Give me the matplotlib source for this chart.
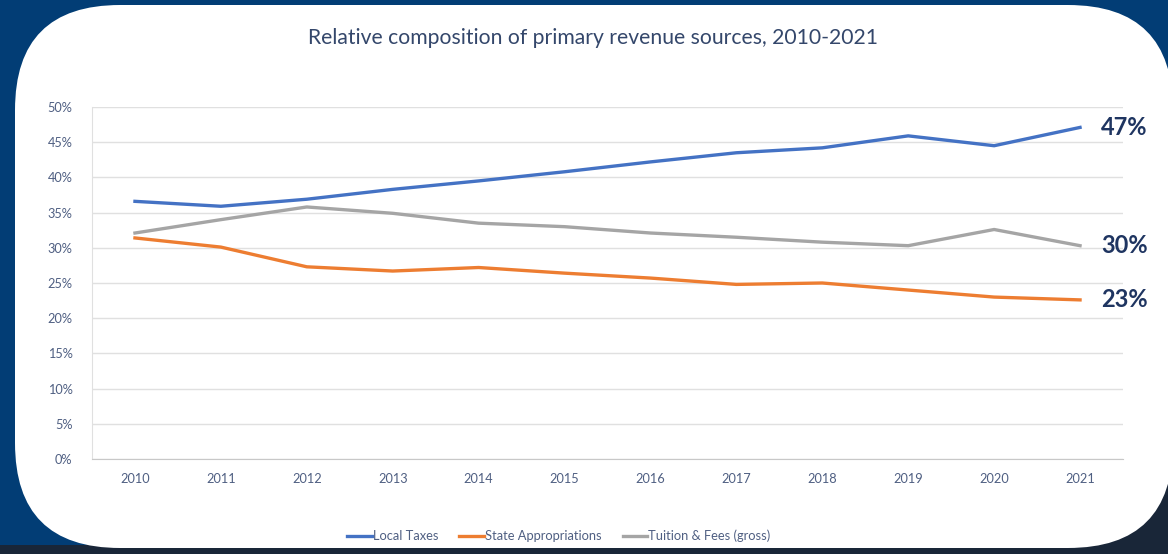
import numpy as np
import matplotlib.pyplot as plt
from matplotlib.patches import FancyBboxPatch

# data (percent of revenue)
years = ['2010', '2011', '2012', '2013', '2014', '2015', '2016', '2017', '2018', '2019', '2020', '2021']
local_taxes = [36.6, 35.9, 36.9, 38.3, 39.5, 40.8, 42.2, 43.5, 44.2, 45.9, 44.5, 47.1]
state_approp = [31.4, 30.1, 27.3, 26.7, 27.2, 26.4, 25.7, 24.8, 25.0, 24.0, 23.0, 22.6]
tuition_fees = [32.1, 34.0, 35.8, 34.9, 33.5, 33.0, 32.1, 31.5, 30.8, 30.3, 32.6, 30.3]
series_names = ['Local Taxes', 'State Appropriations', 'Tuition & Fees (gross)']
end_labels = ['47%', '23%', '30%']
yticks = [0, 5, 10, 15, 20, 25, 30, 35, 40, 45, 50]

W, H = 1168, 554
plt.rcParams['font.family'] = ['Lato', 'DejaVu Sans']

fig = plt.figure(figsize=(W / 100, H / 100), dpi=100)

# background in pixel coordinates
bg = fig.add_axes([0, 0, 1, 1])
bg.set_xlim(0, W)
bg.set_ylim(H, 0)
bg.axis('off')

blue = np.array([0.01, 0.24, 0.46])
dark = np.array([0.10, 0.15, 0.22])
xx, yy = np.meshgrid(np.linspace(0, 1, 240), np.linspace(0, 1, 120))
t = np.clip((xx * 0.8 + yy * 1.2 - 1.35) / 0.35, 0, 1)
t[yy > 0.985] = 1
img = blue[None, None, :] * (1 - t[..., None]) + dark[None, None, :] * t[..., None]
bg.imshow(img, extent=[0, W, H, 0], aspect='auto', zorder=0)

card = FancyBboxPatch((15, 5), 1158, 543, boxstyle='round,pad=0,rounding_size=105',
                      facecolor='white', edgecolor='none', zorder=1)
bg.add_patch(card)

# chart axes
ax = fig.add_axes([92 / W, 1 - 459 / H, (1123 - 92) / W, (459 - 107) / H])
ax.set_facecolor('none')
x = np.arange(len(years))
ax.plot(x, local_taxes, color='#4472C4', lw=2.4, label=series_names[0])
ax.plot(x, state_approp, color='#ED7D31', lw=2.4, label=series_names[1])
ax.plot(x, tuition_fees, color='#A5A5A5', lw=2.4, label=series_names[2])

ax.set_xlim(-0.5, len(years) - 0.5)
ax.set_ylim(0, 50)
ax.set_yticks(yticks)
ax.set_yticklabels([f'{v}%' for v in yticks])
ax.set_xticks(x)
ax.set_xticklabels(years)
ax.tick_params(length=0, labelsize=9.2, labelcolor='#4f5f82')
ax.tick_params(axis='y', pad=14)
ax.tick_params(axis='x', pad=10)
ax.grid(axis='y', color='#e0e0e0', lw=1)
ax.set_axisbelow(True)
for s in ['top', 'right']:
    ax.spines[s].set_visible(False)
ax.spines['left'].set_color('#e0e0e0')
ax.spines['bottom'].set_color('#c8c8c8')

# end labels
for vals, lab in zip([local_taxes, state_approp, tuition_fees], end_labels):
    ax.annotate(lab, (x[-1], vals[-1]), xytext=(15, 0), textcoords='offset points',
                va='center', ha='left', fontsize=17, fontweight='bold', color='#1f3561',
                annotation_clip=False)

fig.text(593 / W, 1 - 38 / H, 'Relative composition of primary revenue sources, 2010-2021',
         ha='center', va='center', fontsize=15.2, color='#34476b')

fig.legend(loc='center', bbox_to_anchor=(559 / W, 1 - 536 / H), ncol=3, frameon=False,
           fontsize=9.3, handlelength=1.9, handletextpad=0.1, columnspacing=1.6,
           labelcolor='#4f5f82')

plt.savefig('out.png', dpi=100)
